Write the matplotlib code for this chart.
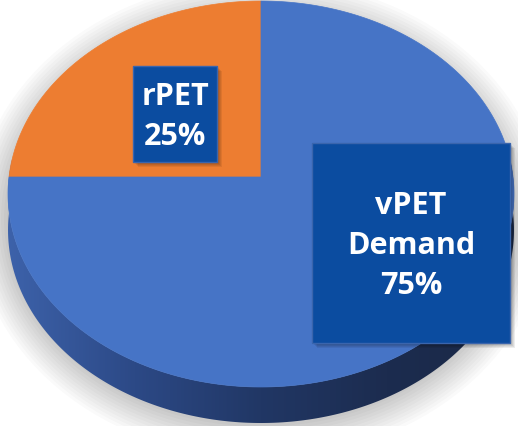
import numpy as np
import matplotlib.pyplot as plt
from matplotlib.patches import Rectangle, Polygon, Ellipse
from matplotlib.colors import LinearSegmentedColormap

# data
labels = ["rPET", "vPET\nDemand"]
shares = [25, 75]
colors = ["#ED7D31", "#4674C6"]

W, H = 518, 427
cx, cy = 261, 178      # pie centre on screen, px
top_px, bot_px = 2, 388
rxp = 252
depth_px = 36

# simple perspective: a unit disc tilted away from the viewer
b = ((bot_px - cy) / (cy - top_px) - 1) / ((bot_px - cy) / (cy - top_px) + 1)
A = (cy - top_px) * (1 + b)


def proj(uv):
    u, v = uv[:, 0], uv[:, 1]
    s = 1.0 / (1.0 + b * v)
    return np.column_stack([cx + rxp * u * s, cy - A * v * s])


fig = plt.figure(figsize=(W / 100, H / 100), dpi=100)
helper = fig.add_axes([0, 0, 1, 1])
helper.axis("off")
ax = fig.add_axes([0, 0, 1, 1])
ax.set_xlim(0, W)
ax.set_ylim(H, 0)
ax.axis("off")

# soft shadow under the disc
for k in range(14):
    ax.add_patch(Ellipse((cx, cy + 42), 2 * (248 + 3 * k), 2 * (198 + 3.2 * k),
                         color="black", alpha=0.02, lw=0, zorder=0))

# side of the disc with a left-to-right gradient
t = np.linspace(np.pi - 0.1, 2 * np.pi + 0.1, 400)
rim = proj(np.column_stack([np.cos(t), np.sin(t)]))
low = rim[::-1] + [0, depth_px]
side = Polygon(np.vstack([rim, low]), closed=True, fc="none", ec="none")
ax.add_patch(side)
side_cmap = LinearSegmentedColormap.from_list(
    "side", ["#3d62aa", "#2c4986", "#213765", "#1c2c4f", "#1a2846"])
grad = np.linspace(0, 1, 256).reshape(1, -1)
im = ax.imshow(grad, cmap=side_cmap, extent=(rim[:, 0].min(), rim[:, 0].max(), H, 150),
               aspect="auto", zorder=1)
im.set_clip_path(side)
ax.set_xlim(0, W)
ax.set_ylim(H, 0)

# top face: pie wedges in unit coordinates, then put in perspective
wedges, _ = helper.pie(shares, colors=colors, startangle=90, counterclock=True,
                       radius=1, center=(0, 0), wedgeprops=dict(lw=0))
for w in wedges:
    ang = np.radians(np.linspace(w.theta1, w.theta2, 300))
    c0 = np.array(w.center)
    pts = np.vstack([c0, c0 + w.r * np.column_stack([np.cos(ang), np.sin(ang)])])
    ax.add_patch(Polygon(proj(pts), closed=True, fc=w.get_facecolor(),
                         ec=w.get_facecolor(), lw=0.5, zorder=2))
    w.remove()

# label boxes
boxes = [(133, 67, 84, 96), (312, 144, 198, 200)]
for (x, y, w, h), lab, val in zip(boxes, labels, shares):
    for s in range(1, 6):
        ax.add_patch(Rectangle((x + s, y + s), w, h, fc="black", alpha=0.07, lw=0, zorder=3))
    ax.add_patch(Rectangle((x, y), w, h, fc="#0B4CA0", ec="#3a65ad", lw=1, zorder=4))
    ax.text(x + w / 2, y + h / 2 + 2, f"{lab}\n{val}%", color="white", fontsize=22,
            fontweight="bold", family="Open Sans", ha="center", va="center",
            linespacing=1.43, zorder=5)

fig.savefig("out.png", dpi=100, facecolor="white")
